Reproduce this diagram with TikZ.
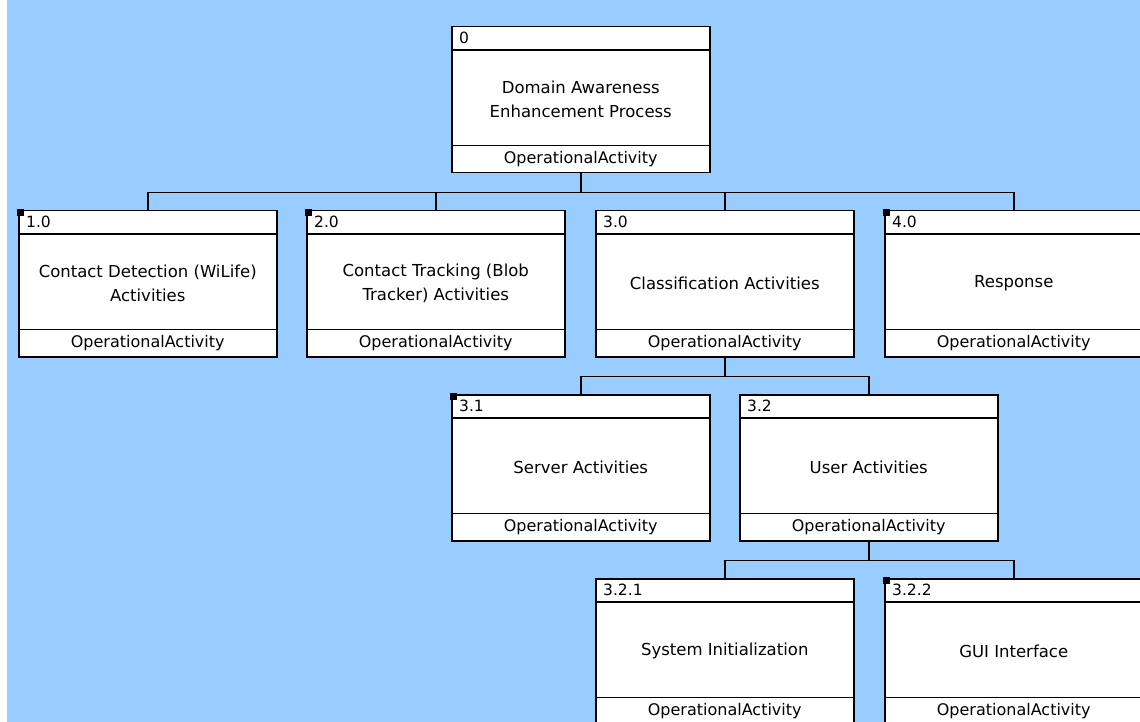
\documentclass[tikz,border=0pt]{standalone}
\usepackage{fontspec}
\setmainfont{DejaVu Sans}
\definecolor{bgblue}{RGB}{153,204,255}
\tikzset{
  actbox/.style={draw=black, line width=1.5pt, fill=white, minimum width=258pt, minimum height=146pt, inner sep=0pt, anchor=north west},
  divider/.style={draw=black, line width=1.3pt},
  idlabel/.style={anchor=west, inner sep=0pt, font=\fontsize{15.5}{18}\selectfont},
  bodytext/.style={align=center, inner sep=0pt, font=\fontsize{16.5}{24}\selectfont},
  foottext/.style={inner sep=0pt, font=\fontsize{16}{18}\selectfont},
  link/.style={draw=black, line width=1.5pt},
}
% #1 name, #2 x, #3 y, #4 id, #5 body text, #6 marker (1 = yes)
\newcommand\ActBox[6]{%
  \node[actbox] (#1) at (#2,#3) {};
  \draw[divider] ([yshift=-24pt]#1.north west) -- ([yshift=-24pt]#1.north east);
  \draw[divider] ([yshift=28pt]#1.south west) -- ([yshift=28pt]#1.south east);
  \node[idlabel] (#1-id) at ([xshift=8pt,yshift=-12pt]#1.north west) {#4};
  \node[bodytext] (#1-body) at ([yshift=-73pt]#1.north) {#5};
  \node[foottext] (#1-foot) at ([yshift=14pt]#1.south) {OperationalActivity};
  \ifnum#6=1 \fill[black] ([shift={(-1,-1)}]#1.north west) rectangle ++(7,7);\fi
}
\begin{document}
\begin{tikzpicture}[x=1pt, y=-1pt]
\useasboundingbox (0,0) rectangle (1140,722);
\clip (0,0) rectangle (1140,722);
\fill[white] (0,0) rectangle (1140,722);
\fill[bgblue] (7,0) rectangle (1140,722);

\ActBox{a0}{451}{26}{0}{Domain Awareness\\Enhancement Process}{0}
\ActBox{a1}{18}{210}{1.0}{Contact Detection (WiLife)\\Activities}{1}
\ActBox{a2}{306}{210}{2.0}{Contact Tracking (Blob\\Tracker) Activities}{1}
\ActBox{a3}{595}{210}{3.0}{Classification Activities}{0}
\ActBox{a4}{884}{210}{4.0}{Response}{1}
\ActBox{a31}{451}{394}{3.1}{Server Activities}{1}
\ActBox{a32}{739}{394}{3.2}{User Activities}{0}
\ActBox{a321}{595}{578}{3.2.1}{System Initialization}{0}
\ActBox{a322}{884}{578}{3.2.2}{GUI Interface}{1}

\foreach \c in {a1,a2,a3,a4}
  \draw[link] (a0.south) -- ++(0,19) -| (\c.north);
\foreach \c in {a31,a32}
  \draw[link] (a3.south) -- ++(0,19) -| (\c.north);
\foreach \c in {a321,a322}
  \draw[link] (a32.south) -- ++(0,19) -| (\c.north);
\end{tikzpicture}
\end{document}
